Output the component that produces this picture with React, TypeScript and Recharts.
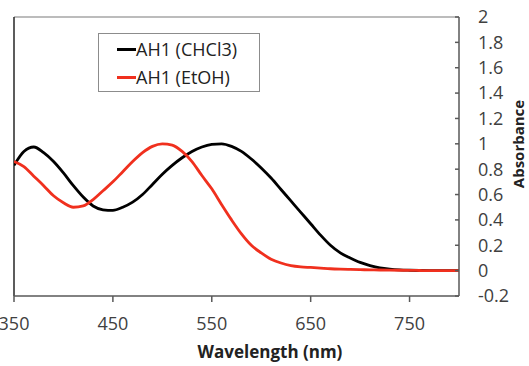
import React from "react";
import {
  LineChart,
  Line,
  XAxis,
  YAxis,
  Legend,
  ReferenceLine,
} from "recharts";

// wavelength in nm
const wavelengths = [
  350, 360, 370, 380, 390, 400, 410, 420, 430, 440, 450, 460, 470, 480, 490,
  500, 510, 520, 530, 540, 550, 560, 570, 580, 590, 600, 610, 620, 630, 640,
  650, 660, 670, 680, 690, 700, 710, 720, 730, 740, 750, 760, 770, 780, 790,
  800,
];

const chcl3 = [
  0.83, 0.94, 0.975, 0.93, 0.86, 0.77, 0.67, 0.58, 0.51, 0.48, 0.475, 0.5,
  0.54, 0.6, 0.68, 0.76, 0.83, 0.89, 0.94, 0.975, 0.995, 1.0, 0.98, 0.94, 0.88,
  0.81, 0.73, 0.64, 0.55, 0.46, 0.37, 0.28, 0.2, 0.14, 0.1, 0.065, 0.04,
  0.022, 0.012, 0.006, 0.003, 0.001, 0, 0, 0, 0,
];

const etoh = [
  0.86, 0.82, 0.745, 0.67, 0.59, 0.535, 0.5, 0.51, 0.56, 0.63, 0.7, 0.78, 0.86,
  0.93, 0.98, 1.0, 0.99, 0.94, 0.86, 0.75, 0.645, 0.52, 0.4, 0.29, 0.2, 0.14,
  0.09, 0.06, 0.04, 0.03, 0.025, 0.02, 0.015, 0.012, 0.01, 0.008, 0.006, 0.005,
  0.004, 0.003, 0.002, 0.001, 0, 0, 0, 0,
];

const xTicks = [350, 450, 550, 650, 750];
const yTicks = [-0.2, 0, 0.2, 0.4, 0.6, 0.8, 1, 1.2, 1.4, 1.6, 1.8, 2];

const seriesInfo = [
  { key: "chcl3", name: "AH1 (CHCl3)", color: "#000000" },
  { key: "etoh", name: "AH1 (EtOH)", color: "#f0301e" },
];

const data = wavelengths.map((w, i) => ({
  wl: w,
  chcl3: chcl3[i],
  etoh: etoh[i],
}));

const FONT = "'Open Sans', Lato, sans-serif";
const TEXT = "#404040";

function LegendBox() {
  return (
    <div
      style={{
        width: 160,
        height: 57,
        border: "1px solid #8c8c8c",
        background: "#fff",
        position: "relative",
        fontFamily: FONT,
        fontSize: 18,
        color: "#222",
      }}
    >
      {seriesInfo.map((s, i) => (
        <div
          key={s.key}
          style={{
            position: "absolute",
            left: 18,
            top: 3 + i * 28,
            display: "flex",
            alignItems: "center",
            height: 24,
            whiteSpace: "nowrap",
          }}
        >
          <span
            style={{
              display: "inline-block",
              width: 19,
              height: 3,
              background: s.color,
            }}
          />
          <span style={{ lineHeight: "24px" }}>{s.name}</span>
        </div>
      ))}
    </div>
  );
}

export default function App() {
  return (
    <div
      style={{
        position: "absolute",
        left: 0,
        top: 0,
        width: 529,
        height: 366,
        background: "#fff",
      }}
    >
      <LineChart
        width={529}
        height={366}
        data={data}
        margin={{ top: 17, right: 0, bottom: 10, left: 14 }}
      >
        <XAxis
          dataKey="wl"
          type="number"
          domain={[350, 800]}
          ticks={xTicks}
          interval={0}
          allowDataOverflow
          height={60}
          tickSize={6}
          tickMargin={15}
          axisLine={{ stroke: "#595959", strokeWidth: 1.5 }}
          tickLine={{ stroke: "#595959", strokeWidth: 1.5 }}
          tick={{ fill: TEXT, fontSize: 18, fontFamily: FONT }}
          label={{
            content: () => (
              <text
                x={270}
                y={358}
                textAnchor="middle"
                fontFamily={FONT}
                fontWeight="bold"
                fontSize={17}
                fill="#222"
              >
                Wavelength (nm)
              </text>
            ),
          }}
        />
        <YAxis
          orientation="right"
          type="number"
          domain={[-0.2, 2]}
          ticks={yTicks}
          interval={0}
          width={70}
          tickSize={-4}
          tickMargin={23}
          tickFormatter={(v: number) => String(Math.round(v * 10) / 10)}
          axisLine={{ stroke: "#595959", strokeWidth: 1.5 }}
          tickLine={{ stroke: "#595959", strokeWidth: 1.5 }}
          tick={{ fill: TEXT, fontSize: 18, fontFamily: FONT }}
          label={{
            content: () => (
              <text
                x={524}
                y={144}
                transform="rotate(-90, 524, 144)"
                textAnchor="middle"
                fontFamily={FONT}
                fontWeight="bold"
                fontSize={15}
                fill="#222"
              >
                Absorbance
              </text>
            ),
          }}
        />
        <ReferenceLine y={2} stroke="#a6a6a6" strokeWidth={1.5} />
        <ReferenceLine x={350} stroke="#262626" strokeWidth={1.5} />
        <Legend
          layout="vertical"
          align="center"
          verticalAlign="middle"
          wrapperStyle={{ top: 33, left: 98, width: 162, height: 59 }}
          content={() => <LegendBox />}
        />
        {seriesInfo.map((s) => (
          <Line
            key={s.key}
            type="monotone"
            dataKey={s.key}
            name={s.name}
            stroke={s.color}
            strokeWidth={2.8}
            dot={false}
            activeDot={false}
            isAnimationActive={false}
          />
        ))}
      </LineChart>
    </div>
  );
}
